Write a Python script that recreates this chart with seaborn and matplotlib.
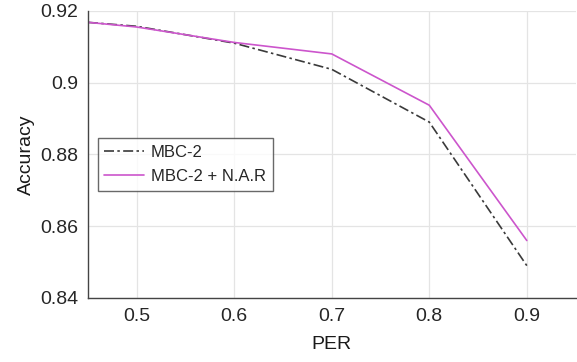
import matplotlib
matplotlib.use("Agg")
import matplotlib.pyplot as plt
import pandas as pd
import seaborn as sns

# Data
per = [0.45, 0.5, 0.6, 0.7, 0.8, 0.9]
mbc2 = [0.9168, 0.9157, 0.9110, 0.9037, 0.8890, 0.8490]
mbc2_nar = [0.9168, 0.9155, 0.9112, 0.9080, 0.8937, 0.8560]

df = pd.DataFrame({
    "PER": per * 2,
    "Accuracy": mbc2 + mbc2_nar,
    "method": ["MBC-2"] * len(per) + ["MBC-2 + N.A.R"] * len(per),
})

sns.set_style("white")
plt.rcParams["font.family"] = ["Liberation Sans", "DejaVu Sans"]

fig = plt.figure(figsize=(5.77, 3.62), dpi=100)
ax = fig.add_axes([0.1525, 0.177, 0.845, 0.793])

sns.lineplot(data=df, x="PER", y="Accuracy", hue="method", style="method",
             palette={"MBC-2": "#3a3a3a", "MBC-2 + N.A.R": "#cc55cc"},
             dashes={"MBC-2": (6, 2, 1.5, 2), "MBC-2 + N.A.R": ""},
             linewidth=1.2, ax=ax)

ax.set_xlim(0.45, 0.95)
ax.set_ylim(0.84, 0.92)
ax.set_xticks([0.5, 0.6, 0.7, 0.8, 0.9])
ax.set_xticklabels(["0.5", "0.6", "0.7", "0.8", "0.9"])
ax.set_yticks([0.84, 0.86, 0.88, 0.9, 0.92])
ax.set_yticklabels(["0.84", "0.86", "0.88", "0.9", "0.92"])
ax.grid(True, color="#e4e4e4", linewidth=0.9)
ax.tick_params(axis="both", direction="in", length=4, color="#444444",
               labelsize=14, labelcolor="#262626", pad=7)
for s in ["top", "right"]:
    ax.spines[s].set_visible(False)
for s in ["left", "bottom"]:
    ax.spines[s].set_color("#444444")
    ax.spines[s].set_linewidth(1.0)
ax.set_xlabel("PER", fontsize=14, color="#1a1a1a", labelpad=8)
ax.set_ylabel("Accuracy", fontsize=14, color="#1a1a1a", labelpad=4)

leg = ax.legend(loc="upper left", bbox_to_anchor=(0.02, 0.557), fontsize=12,
                frameon=True, fancybox=False, edgecolor="#444444",
                borderaxespad=0, borderpad=0.4, handlelength=2.4,
                handletextpad=0.4, labelspacing=0.55)
leg.get_frame().set_linewidth(1.0)
leg.set_title(None)

fig.savefig("out.png", dpi=100, facecolor="white")
